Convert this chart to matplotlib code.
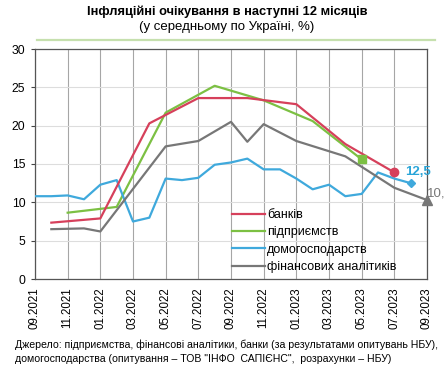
import matplotlib
matplotlib.use("Agg")
import matplotlib.pyplot as plt
from matplotlib.lines import Line2D

plt.rcParams['font.family'] = ['Liberation Sans', 'DejaVu Sans']

# ---- data ----
tick_labels = ["09.2021", "11.2021", "01.2022", "03.2022", "05.2022", "07.2022",
               "09.2022", "11.2022", "01.2023", "03.2023", "05.2023", "07.2023", "09.2023"]

banks_dates = ["10.2021", "01.2022", "04.2022", "07.2022", "10.2022", "01.2023", "04.2023", "07.2023"]
banks_vals = [7.35, 7.9, 20.3, 23.6, 23.6, 22.8, 17.6, 13.9]

firms_dates = ["11.2021", "02.2022", "05.2022", "08.2022", "11.2022", "02.2023", "05.2023"]
firms_vals = [8.65, 9.4, 21.7, 25.2, 23.3, 20.6, 15.6]

hh_dates = ["09.2021", "10.2021", "11.2021", "12.2021", "01.2022", "02.2022", "03.2022",
            "04.2022", "05.2022", "06.2022", "07.2022", "08.2022", "09.2022", "10.2022",
            "11.2022", "12.2022", "01.2023", "02.2023", "03.2023", "04.2023", "05.2023",
            "06.2023", "07.2023", "08.2023"]
hh_vals = [10.8, 10.8, 10.9, 10.4, 12.3, 12.9, 7.5, 8.0, 13.1, 12.9, 13.2, 14.9,
           15.2, 15.7, 14.3, 14.3, 13.1, 11.7, 12.3, 10.8, 11.1, 13.9, 13.1, 12.5]

an_dates = ["10.2021", "12.2021", "01.2022", "05.2022", "07.2022", "09.2022", "10.2022",
            "11.2022", "01.2023", "04.2023", "07.2023", "09.2023"]
an_vals = [6.5, 6.6, 6.2, 17.3, 18.0, 20.5, 17.9, 20.2, 18.0, 16.0, 11.9, 10.3]

series_names = ["банків", "підприємств", "домогосподарств", "фінансових аналітиків"]
colors = ["#d6405b", "#7cc043", "#3fa9dc", "#777777"]

def mpos(s):
    m, y = s.split(".")
    return (int(y) - 2021) * 12 + int(m) - 9

fig = plt.figure(figsize=(4.45, 3.74), dpi=100)
ax = fig.add_axes([35/445, 1-279/374, (427-35)/445, (279-49)/374])

lw = 1.6
ax.plot([mpos(d) for d in banks_dates], banks_vals, color=colors[0], lw=lw, label=series_names[0], zorder=4)
ax.plot([mpos(d) for d in firms_dates], firms_vals, color=colors[1], lw=lw, label=series_names[1], zorder=3)
ax.plot([mpos(d) for d in hh_dates], hh_vals, color=colors[2], lw=lw, label=series_names[2], zorder=3)
ax.plot([mpos(d) for d in an_dates], an_vals, color=colors[3], lw=lw, label=series_names[3], zorder=3)

# end markers
ax.plot(mpos(banks_dates[-1]), banks_vals[-1], 'o', color=colors[0], ms=6, zorder=5)
ax.plot(mpos(firms_dates[-1]), firms_vals[-1], 's', color=colors[1], ms=6, zorder=5)
ax.plot(mpos(hh_dates[-1]), hh_vals[-1], 'D', color=colors[2], ms=4.5, zorder=5)
ax.plot(mpos(an_dates[-1]), an_vals[-1], '^', color=colors[3], ms=7, zorder=5, clip_on=False)

ax.annotate(f"{hh_vals[-1]:.1f}".replace(".", ","), (mpos(hh_dates[-1]), hh_vals[-1]),
            xytext=(-4, 8), textcoords="offset points", color="#2aa5d8",
            fontsize=9.5, fontweight="bold", ha="left", va="center")
ax.annotate(f"{an_vals[-1]:.1f}".replace(".", ","), (mpos(an_dates[-1]), an_vals[-1]),
            xytext=(0, 4.5), textcoords="offset points", color="#777777",
            fontsize=9.5, ha="left", va="center", annotation_clip=False)

ax.set_xlim(0, 24)
ax.set_ylim(0, 30)
ax.set_yticks(range(0, 31, 5))
ax.set_xticks([mpos(t) for t in tick_labels])
ax.set_xticklabels(tick_labels, rotation=90, fontsize=8.3)
ax.tick_params(axis='y', labelsize=8.8, length=3, width=0.8, color="#444444", pad=4)
ax.tick_params(axis='x', length=0, pad=6)

ax.grid(axis='x', color="#a6a6a6", lw=0.8)
ax.grid(axis='y', color="#dddddd", lw=0.8)
ax.set_axisbelow(True)
for sp in ax.spines.values():
    sp.set_color("#555555")
    sp.set_linewidth(0.9)

leg = ax.legend(loc="upper left", bbox_to_anchor=(0.49, 0.325), frameon=False,
                fontsize=9, handlelength=2.6, handletextpad=0.2, labelspacing=0.42,
                borderaxespad=0)

fig.text(0.51, 1-12/374, "Інфляційні очікування в наступні 12 місяців", ha="center", va="center",
         fontsize=9.3, fontweight="bold")
fig.text(0.51, 1-27/374, "(у середньому по Україні, %)", ha="center", va="center", fontsize=9.5)

fig.add_artist(Line2D([37/445, 435/445], [1-40/374, 1-40/374], color="#c6e0ae", lw=1.6))

fig.text(15/445, 1-345/374, "Джерело: підприємства, фінансові аналітики, банки (за результатами опитувань НБУ),",
         ha="left", va="center", fontsize=7.6)
fig.text(15/445, 1-359/374, "домогосподарства (опитування \u2013 ТОВ \"ІНФО  САПІЄНС\",  розрахунки \u2013 НБУ)",
         ha="left", va="center", fontsize=7.6)

fig.savefig("out.png", dpi=100)
